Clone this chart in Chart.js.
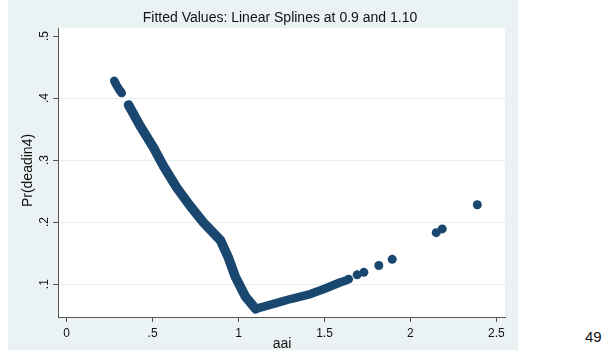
<!DOCTYPE html>
<html>
<head>
<meta charset="utf-8">
<script src="https://cdn.jsdelivr.net/npm/chart.js@4"></script>
<style>
    body { margin: 0; background: #fff; font-family: "Liberation Sans", Arial, sans-serif; }
    .frame { position: absolute; left: 8px; top: 0; width: 510px; height: 350px; background: #eaf2f3; }
    .page-no { position: absolute; left: 585px; top: 328px; font-size: 15px; color: #111; }
</style>
</head>
<body>
<div class="frame"><canvas id="fitChart"></canvas></div>
<div class="page-no">49</div>
<script>
// values
const aaiTop = [0.277, 0.290, 0.305, 0.321];
const prTop = [0.428, 0.421, 0.414, 0.408];

// falling part, down to the knot at 1.10
const aaiFall = [0.360, 0.428, 0.506, 0.564, 0.642, 0.719, 0.797, 0.894, 0.942, 0.981, 1.040, 1.100];
const prFall = [0.389, 0.355, 0.320, 0.290, 0.255, 0.226, 0.199, 0.171, 0.142, 0.112, 0.080, 0.060];

// rising part after 1.10
const aaiRise = [1.100, 1.214, 1.302, 1.418, 1.505, 1.593, 1.625];
const prRise = [0.060, 0.069, 0.076, 0.084, 0.093, 0.103, 0.106];

const aaiSparse = [1.640, 1.690, 1.729, 1.816, 1.894, 2.150, 2.185, 2.389];
const prSparse = [0.108, 0.115, 0.119, 0.130, 0.140, 0.183, 0.189, 0.228];

const xTicks = [0, 0.5, 1, 1.5, 2, 2.5];
const yTicks = [0.1, 0.2, 0.3, 0.4, 0.5];

const navy = "#1a476f";
const axisColor = "#555";
const fontName = "'Liberation Sans', Arial, sans-serif";

// stata style: .5 instead of 0.5
function stataLabel(v) {
    return String(+v.toFixed(2)).replace(/^0\./, ".");
}

function toPoints(xs, ys) {
    return xs.map((x, i) => ({ x: x, y: ys[i] }));
}

function band(xs, ys, width) {
    return {
        data: toPoints(xs, ys),
        showLine: true,
        borderColor: navy,
        borderWidth: width,
        borderCapStyle: "round",
        borderJoinStyle: "round",
        pointRadius: 0
    };
}

// white plot region + texts drawn around it
const stataBits = {
    id: "stataBits",
    beforeDraw(chart) {
        const a = chart.chartArea;
        const ctx = chart.ctx;
        ctx.save();
        ctx.fillStyle = "#fff";
        ctx.fillRect(a.left, a.top, a.right - a.left, a.bottom - a.top);
        ctx.restore();
    },
    afterDraw(chart) {
        const ctx = chart.ctx;
        const yScale = chart.scales.y;
        ctx.save();
        ctx.fillStyle = "#111";
        ctx.textAlign = "center";
        ctx.textBaseline = "middle";

        ctx.font = "14px " + fontName;
        ctx.fillText("Fitted Values: Linear Splines at 0.9 and 1.10", 272, 18);
        ctx.fillText("aai", 274, 344);

        ctx.save();
        ctx.translate(20.5, 170.5);
        ctx.rotate(-Math.PI / 2);
        ctx.fillText("Pr(deadin4)", 0, 0);
        ctx.restore();

        ctx.font = "12px " + fontName;
        yTicks.forEach(v => {
            ctx.save();
            ctx.translate(37, yScale.getPixelForValue(v));
            ctx.rotate(-Math.PI / 2);
            ctx.fillText(stataLabel(v), 0, 0);
            ctx.restore();
        });
        ctx.restore();
    }
};

document.addEventListener("DOMContentLoaded", function () {
    const ctx = document.getElementById("fitChart").getContext("2d");

    new Chart(ctx, {
        type: "scatter",
        data: {
            datasets: [
                band(aaiTop, prTop, 8.5),
                band(aaiFall, prFall, 9.5),
                band(aaiRise, prRise, 8.5),
                {
                    data: toPoints(aaiSparse, prSparse),
                    backgroundColor: navy,
                    borderColor: navy,
                    borderWidth: 0,
                    pointRadius: 4.5
                }
            ]
        },
        options: {
            responsive: true,
            maintainAspectRatio: false,
            animation: false,
            layout: { padding: { top: 28, right: 13, left: 0, bottom: 0 } },
            plugins: {
                legend: { display: false },
                tooltip: { enabled: false },
                title: { display: false }
            },
            scales: {
                x: {
                    type: "linear",
                    min: -0.05,
                    max: 2.55,
                    afterBuildTicks: s => { s.ticks = xTicks.map(v => ({ value: v })); },
                    afterFit: s => { s.height = 33; },
                    border: { display: true, color: axisColor, width: 1 },
                    grid: { drawOnChartArea: false, drawTicks: true, tickLength: 5, tickColor: axisColor },
                    ticks: {
                        padding: 4,
                        color: "#111",
                        font: { family: fontName, size: 12 },
                        maxRotation: 0,
                        callback: v => stataLabel(v)
                    }
                },
                y: {
                    type: "linear",
                    min: 0.047,
                    max: 0.513,
                    afterBuildTicks: s => { s.ticks = yTicks.map(v => ({ value: v })); },
                    afterFit: s => { s.width = 50; },
                    border: { display: true, color: axisColor, width: 1 },
                    grid: {
                        color: c => (c.tick && c.tick.value > 0.45) ? "rgba(0,0,0,0)" : "#e6eff1",
                        drawTicks: true,
                        tickLength: 5,
                        tickColor: axisColor
                    },
                    ticks: { display: false }
                }
            }
        },
        plugins: [stataBits]
    });
});
</script>
</body>
</html>
